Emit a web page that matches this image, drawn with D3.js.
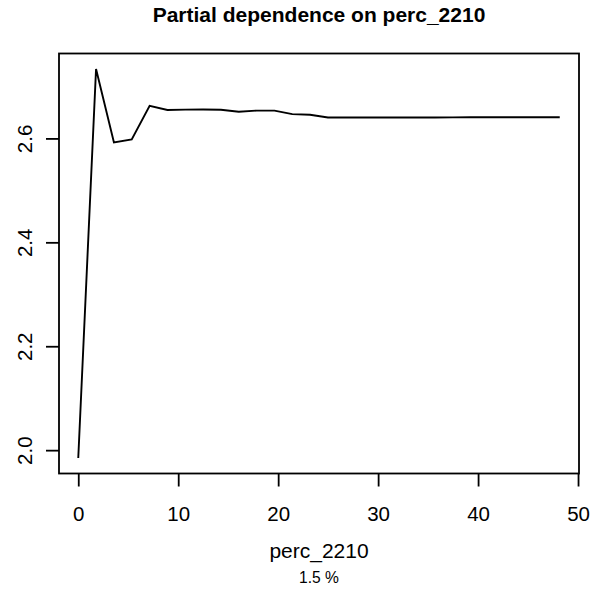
<!DOCTYPE html>
<html>
<head>
<meta charset="UTF-8">
<title>Partial dependence</title>
<script src="https://cdn.jsdelivr.net/npm/d3@7"></script>
<style>
    body { margin: 0; background: #fff; }
    svg text { font-family: "Liberation Sans", Arial, Helvetica, sans-serif; fill: #000; }
</style>
</head>
<body>
<div id="chart"></div>
<script>
    // values
    const percValues = [0, 1.78, 3.57, 5.35, 7.14, 8.92, 10.70, 12.49, 14.27, 16.06,
        17.84, 19.63, 21.41, 23.19, 24.98, 26.76, 28.55, 30.33, 32.11, 33.90,
        35.68, 37.47, 39.25, 41.03, 42.82, 44.60, 46.39, 48.17];
    const dependence = [1.985, 2.7335, 2.5923, 2.5981, 2.6628, 2.6548, 2.6555, 2.6556, 2.6553, 2.6512,
        2.6535, 2.6535, 2.6468, 2.6455, 2.6404, 2.6403, 2.6403, 2.6403, 2.6403, 2.6403,
        2.6403, 2.6405, 2.6408, 2.6408, 2.6408, 2.6408, 2.6408, 2.6408];
    const xTicks = [0, 10, 20, 30, 40, 50];
    const yTicks = [2.0, 2.2, 2.4, 2.6];

    const W = 605, H = 593;
    const box = { left: 59, right: 579, top: 53.5, bottom: 473.5 };

    // R style 4% padding on the ranges
    function pad(ext) {
        const r = ext[1] - ext[0];
        return [ext[0] - 0.04 * r, ext[1] + 0.04 * r];
    }

    const x = d3.scaleLinear().domain(pad(d3.extent(percValues))).range([box.left, box.right]);
    const y = d3.scaleLinear().domain(pad(d3.extent(dependence))).range([box.bottom, box.top]);

    const svg = d3.select("#chart").append("svg")
        .attr("width", W)
        .attr("height", H);

    // curve
    const line = d3.line()
        .x((d, i) => x(percValues[i]))
        .y(d => y(d));

    svg.append("path")
        .datum(dependence)
        .attr("d", line)
        .attr("fill", "none")
        .attr("stroke", "#000")
        .attr("stroke-width", 1.9)
        .attr("stroke-linejoin", "miter");

    // x axis
    const xAxis = svg.append("g")
        .attr("transform", "translate(0," + box.bottom + ")")
        .call(d3.axisBottom(x).tickValues(xTicks).tickFormat(d3.format("d")).tickSize(13).tickPadding(20));
    xAxis.select(".domain").remove();
    xAxis.selectAll(".tick line").attr("stroke", "#000").attr("stroke-width", 1.8);
    xAxis.selectAll(".tick text").style("font-size", "20.5px");

    // y axis, labels turned like R's las=0
    const yAxis = svg.append("g")
        .attr("transform", "translate(" + box.left + ",0)")
        .call(d3.axisLeft(y).tickValues(yTicks).tickFormat(d3.format(".1f")).tickSize(13));
    yAxis.select(".domain").remove();
    yAxis.selectAll(".tick line").attr("stroke", "#000").attr("stroke-width", 1.8);
    yAxis.selectAll(".tick text")
        .attr("x", null)
        .attr("dy", null)
        .attr("text-anchor", "middle")
        .attr("transform", "translate(-27.3,0) rotate(-90)")
        .style("font-size", "20.5px");

    // box
    svg.append("rect")
        .attr("x", box.left)
        .attr("y", box.top)
        .attr("width", box.right - box.left)
        .attr("height", box.bottom - box.top)
        .attr("fill", "none")
        .attr("stroke", "#000")
        .attr("stroke-width", 1.8);

    const midX = (box.left + box.right) / 2;

    svg.append("text")
        .attr("x", midX)
        .attr("y", 22)
        .attr("text-anchor", "middle")
        .style("font-size", "21px")
        .style("font-weight", "bold")
        .text("Partial dependence on perc_2210");

    svg.append("text")
        .attr("x", midX)
        .attr("y", 558)
        .attr("text-anchor", "middle")
        .style("font-size", "21px")
        .text("perc_2210");

    svg.append("text")
        .attr("x", midX)
        .attr("y", 583)
        .attr("text-anchor", "middle")
        .style("font-size", "15.6px")
        .text("1.5 %");
</script>
</body>
</html>
